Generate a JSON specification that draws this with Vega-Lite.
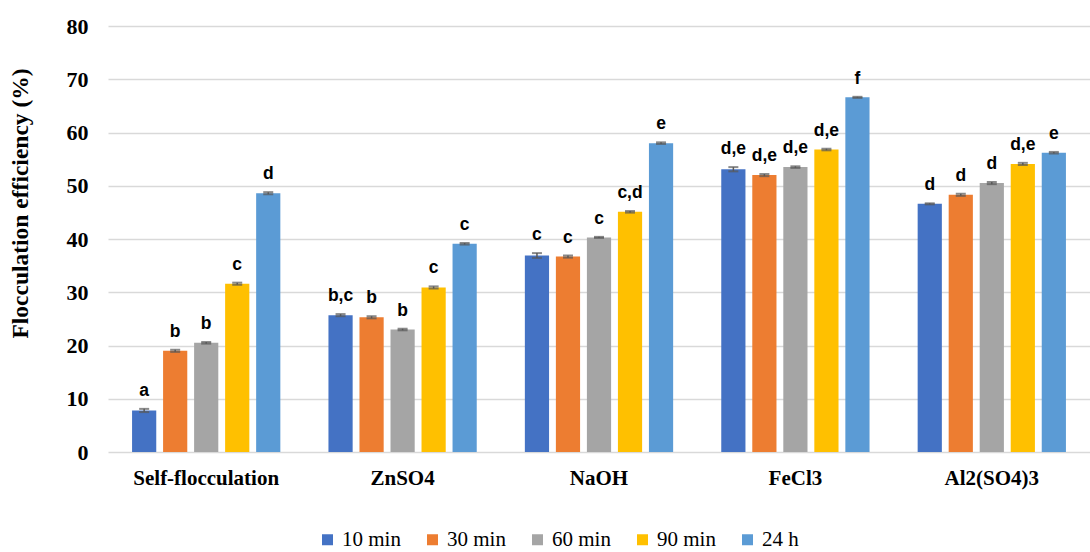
{
  "$schema": "https://vega.github.io/schema/vega-lite/v6.json",
  "width": 982,
  "height": 426,
  "autosize": {"type": "none"},
  "padding": {"left": 108, "top": 26, "right": 0, "bottom": 100},
  "background": "white",
  "config": {
    "view": {"stroke": null},
    "font": "Liberation Serif",
    "legend": {"labelFont": "Liberation Serif"}
  },
  "data": {"values": [
    {"group": "Self-flocculation", "series": "10 min", "value": 7.8, "err": 0.3, "label": "a"},
    {"group": "Self-flocculation", "series": "30 min", "value": 19.0, "err": 0.2, "label": "b"},
    {"group": "Self-flocculation", "series": "60 min", "value": 20.5, "err": 0.15, "label": "b"},
    {"group": "Self-flocculation", "series": "90 min", "value": 31.6, "err": 0.2, "label": "c"},
    {"group": "Self-flocculation", "series": "24 h", "value": 48.6, "err": 0.2, "label": "d"},
    {"group": "ZnSO4", "series": "10 min", "value": 25.7, "err": 0.2, "label": "b,c"},
    {"group": "ZnSO4", "series": "30 min", "value": 25.3, "err": 0.2, "label": "b"},
    {"group": "ZnSO4", "series": "60 min", "value": 23.0, "err": 0.15, "label": "b"},
    {"group": "ZnSO4", "series": "90 min", "value": 30.9, "err": 0.2, "label": "c"},
    {"group": "ZnSO4", "series": "24 h", "value": 39.1, "err": 0.15, "label": "c"},
    {"group": "NaOH", "series": "10 min", "value": 36.9, "err": 0.45, "label": "c"},
    {"group": "NaOH", "series": "30 min", "value": 36.7, "err": 0.2, "label": "c"},
    {"group": "NaOH", "series": "60 min", "value": 40.3, "err": 0.1, "label": "c"},
    {"group": "NaOH", "series": "90 min", "value": 45.1, "err": 0.15, "label": "c,d"},
    {"group": "NaOH", "series": "24 h", "value": 58.0, "err": 0.15, "label": "e"},
    {"group": "FeCl3", "series": "10 min", "value": 53.1, "err": 0.4, "label": "d,e"},
    {"group": "FeCl3", "series": "30 min", "value": 52.0, "err": 0.2, "label": "d,e"},
    {"group": "FeCl3", "series": "60 min", "value": 53.5, "err": 0.15, "label": "d,e"},
    {"group": "FeCl3", "series": "90 min", "value": 56.8, "err": 0.15, "label": "d,e"},
    {"group": "FeCl3", "series": "24 h", "value": 66.6, "err": 0.1, "label": "f"},
    {"group": "Al2(SO4)3", "series": "10 min", "value": 46.6, "err": 0.1, "label": "d"},
    {"group": "Al2(SO4)3", "series": "30 min", "value": 48.3, "err": 0.2, "label": "d"},
    {"group": "Al2(SO4)3", "series": "60 min", "value": 50.5, "err": 0.2, "label": "d"},
    {"group": "Al2(SO4)3", "series": "90 min", "value": 54.1, "err": 0.2, "label": "d,e"},
    {"group": "Al2(SO4)3", "series": "24 h", "value": 56.2, "err": 0.15, "label": "e"}
  ]},
  "transform": [
    {"calculate": "datum.value - datum.err", "as": "lo"},
    {"calculate": "datum.value + datum.err", "as": "hi"}
  ],
  "encoding": {
    "x": {
      "field": "group", "type": "nominal",
      "sort": ["Self-flocculation", "ZnSO4", "NaOH", "FeCl3", "Al2(SO4)3"],
      "scale": {"paddingInner": 0.245, "paddingOuter": 0.1225},
      "axis": {
        "title": null, "labelAngle": 0, "ticks": false, "domain": false,
        "labelFont": "Liberation Serif", "labelFontWeight": "bold", "labelFontSize": 21,
        "labelColor": "#000000", "labelPadding": 15
      }
    },
    "xOffset": {
      "field": "series", "type": "nominal",
      "sort": ["10 min", "30 min", "60 min", "90 min", "24 h"],
      "scale": {"paddingInner": 0.22}
    }
  },
  "layer": [
    {
      "mark": {"type": "bar"},
      "encoding": {
        "y": {
          "field": "value", "type": "quantitative",
          "scale": {"domain": [0, 80]},
          "axis": {
            "title": "Flocculation efficiency (%)",
            "titleFont": "Liberation Serif", "titleFontWeight": "bold", "titleFontSize": 23.5,
            "titleColor": "#000000", "titleX": -88, "titleY": 177, "titleAngle": -90,
            "titleBaseline": "middle", "titleAlign": "center",
            "values": [0, 10, 20, 30, 40, 50, 60, 70, 80],
            "labelFont": "Liberation Serif", "labelFontWeight": "bold", "labelFontSize": 22,
            "labelColor": "#000000", "labelPadding": 20,
            "ticks": false, "domain": false,
            "grid": true, "gridColor": "#D9D9D9", "gridWidth": 1.5
          }
        },
        "color": {
          "field": "series", "type": "nominal",
          "sort": ["10 min", "30 min", "60 min", "90 min", "24 h"],
          "scale": {
            "domain": ["10 min", "30 min", "60 min", "90 min", "24 h"],
            "range": ["#4472C4", "#ED7D31", "#A5A5A5", "#FFC000", "#5B9BD5"]
          },
          "legend": {
            "title": null, "orient": "none", "direction": "horizontal",
            "legendX": 209, "legendY": 503,
            "symbolType": "square", "symbolSize": 121, "symbolStrokeWidth": 0,
            "labelFont": "Liberation Serif", "labelFontSize": 21, "labelColor": "#000000",
            "columnPadding": 21, "labelOffset": 4
          }
        }
      }
    },
    {
      "mark": {"type": "rule", "color": "#595959", "strokeWidth": 1.5},
      "encoding": {
        "y": {"field": "lo", "type": "quantitative"},
        "y2": {"field": "hi"}
      }
    },
    {
      "mark": {"type": "tick", "color": "#595959", "thickness": 2, "size": 10, "orient": "horizontal"},
      "encoding": {"y": {"field": "hi", "type": "quantitative"}}
    },
    {
      "mark": {"type": "tick", "color": "#595959", "thickness": 2, "size": 10, "orient": "horizontal"},
      "encoding": {"y": {"field": "lo", "type": "quantitative"}}
    },
    {
      "mark": {"type": "text", "baseline": "bottom", "dy": -9, "font": "Liberation Sans", "fontWeight": "bold", "fontSize": 17.5, "color": "#000000"},
      "encoding": {
        "y": {"field": "hi", "type": "quantitative"},
        "text": {"field": "label"}
      }
    }
  ]
}
